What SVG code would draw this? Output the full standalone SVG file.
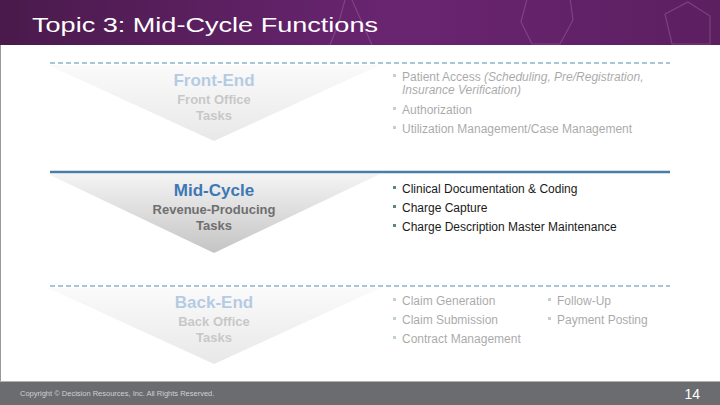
<svg xmlns="http://www.w3.org/2000/svg" width="720" height="405" viewBox="0 0 720 405">
<defs>
<linearGradient id="hdr" x1="0" y1="0" x2="1" y2="0">
<stop offset="0" stop-color="#4a1a4c"/>
<stop offset="0.55" stop-color="#6a2571"/>
<stop offset="1" stop-color="#5c1f60"/>
</linearGradient>
<linearGradient id="tri" x1="0" y1="0" x2="0" y2="1">
<stop offset="0" stop-color="#f4f4f4"/>
<stop offset="1" stop-color="#c4c4c4"/>
</linearGradient>
<style>
.tri{fill:url(#tri)}
.faded{opacity:0.38}
.hd{font-family:"Liberation Sans",Arial,sans-serif;font-weight:bold;font-size:17px;fill:#3c78b4;text-anchor:middle}
.sub{font-family:"Liberation Sans",Arial,sans-serif;font-weight:bold;font-size:13px;fill:#6f6f6f;text-anchor:middle}
.bl{font-family:"Liberation Sans",Arial,sans-serif;font-size:12px;fill:#1a1a1a}
.bul{fill:#5b8a73}
.dash{stroke:#8fb3cc;stroke-width:1.5;stroke-dasharray:5 3;fill:none}
.solid{stroke:#4a7ea6;stroke-width:2.5;fill:none}
.hex{fill:none;stroke:#8a5a92;stroke-width:1.2;opacity:0.6}
</style>
</defs>
<rect x="0" y="0" width="720" height="405" fill="#ffffff"/>
<g id="header">
<rect x="0" y="0" width="720" height="45" fill="url(#hdr)"/>
<polygon class="hex" points="528,-5 570,-2 573,20 560,44 532,44 521,22"/>
<polygon class="hex" points="688,2 710,16 710,44 672,44 665,14"/>
<path class="hex" d="M345,0 L338,25 L330,45 M352,0 L372,45" opacity="0.4"/>
<text x="32" y="32" font-family="Liberation Sans,Arial,sans-serif" font-size="21" fill="#ffffff" textLength="346" lengthAdjust="spacingAndGlyphs">Topic 3: Mid-Cycle Functions</text>
</g>
<line x1="0.5" y1="45" x2="0.5" y2="382" stroke="#9a9a9a" stroke-width="1"/>
<g id="connectors">
<line class="dash" x1="50" y1="63" x2="670" y2="63"/>
<line class="solid" x1="50" y1="172" x2="670" y2="172"/>
<line class="dash" x1="50" y1="286" x2="670" y2="286"/>
</g>
<g id="front-end" class="faded">
<polygon class="tri" points="48,65 380,65 214,141"/>
<text class="hd" x="214" y="86">Front-End</text>
<text class="sub" x="214" y="104">Front Office</text>
<text class="sub" x="214" y="120">Tasks</text>
</g>
<g id="mid-cycle">
<polygon class="tri" points="48,174 380,174 214,253"/>
<text class="hd" x="214" y="196">Mid-Cycle</text>
<text class="sub" x="214" y="214">Revenue-Producing</text>
<text class="sub" x="214" y="230">Tasks</text>
</g>
<g id="back-end" class="faded">
<polygon class="tri" points="48,288 380,288 214,364"/>
<text class="hd" x="214" y="308">Back-End</text>
<text class="sub" x="214" y="326">Back Office</text>
<text class="sub" x="214" y="342">Tasks</text>
</g>
<g id="front-end-tasks" class="faded">
<rect class="bul" x="393" y="74" width="3" height="3"/>
<text class="bl" x="402" y="81">Patient Access <tspan font-style="italic">(Scheduling, Pre/Registration,</tspan></text>
<text class="bl" x="402" y="94" font-style="italic">Insurance Verification)</text>
<rect class="bul" x="393" y="107" width="3" height="3"/>
<text class="bl" x="402" y="114">Authorization</text>
<rect class="bul" x="393" y="126" width="3" height="3"/>
<text class="bl" x="402" y="133">Utilization Management/Case Management</text>
</g>
<g id="mid-cycle-tasks">
<rect class="bul" x="393" y="186" width="3" height="3"/>
<text class="bl" x="402" y="193">Clinical Documentation &amp; Coding</text>
<rect class="bul" x="393" y="205" width="3" height="3"/>
<text class="bl" x="402" y="212">Charge Capture</text>
<rect class="bul" x="393" y="224" width="3" height="3"/>
<text class="bl" x="402" y="231">Charge Description Master Maintenance</text>
</g>
<g id="back-end-tasks" class="faded">
<rect class="bul" x="393" y="298" width="3" height="3"/>
<text class="bl" x="402" y="305">Claim Generation</text>
<rect class="bul" x="393" y="317" width="3" height="3"/>
<text class="bl" x="402" y="324">Claim Submission</text>
<rect class="bul" x="393" y="336" width="3" height="3"/>
<text class="bl" x="402" y="343">Contract Management</text>
<rect class="bul" x="548" y="298" width="3" height="3"/>
<text class="bl" x="557" y="305">Follow-Up</text>
<rect class="bul" x="548" y="317" width="3" height="3"/>
<text class="bl" x="557" y="324">Payment Posting</text>
</g>
<g id="footer">
<rect x="0" y="381" width="720" height="1" fill="#b0b0b0"/>
<rect x="0" y="382" width="720" height="23" fill="#6b6c6f"/>
<text x="20" y="396" font-family="Liberation Sans,Arial,sans-serif" font-size="7.5" fill="#d0d0d0">Copyright © Decision Resources, Inc. All Rights Reserved.</text>
<text x="700" y="399" font-family="Liberation Sans,Arial,sans-serif" font-size="14" fill="#ffffff" text-anchor="end">14</text>
</g>
</svg>
